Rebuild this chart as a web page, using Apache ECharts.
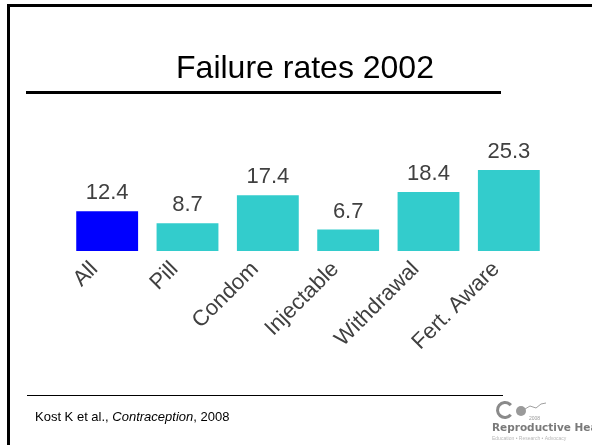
<!DOCTYPE html>
<html>
<head>
  <meta charset="utf-8">
  <title>Failure rates 2002</title>
  <script src="https://cdn.jsdelivr.net/npm/echarts@6/dist/echarts.min.js"></script>
</head>
<body style="margin:0;background:#fff;">
  <div id="main" style="width:592px;height:445px;"></div>
  <script type="text/javascript">
    // 数据
    var methods = ['All', 'Pill', 'Condom', 'Injectable', 'Withdrawal', 'Fert. Aware'];
    var rates = [12.4, 8.7, 17.4, 6.7, 18.4, 25.3];
    var barColors = ['#0000ff', '#33cccc', '#33cccc', '#33cccc', '#33cccc', '#33cccc'];

    var myChart = echarts.init(document.getElementById('main'));

    var seriesData = rates.map(function (v, i) {
      return { value: v, itemStyle: { color: barColors[i] } };
    });

    var option = {
      animation: false,
      backgroundColor: '#fff',
      grid: { left: 67, right: 43, top: 155, bottom: 194 },
      xAxis: {
        type: 'category',
        data: methods,
        axisLine: { show: false },
        axisTick: { show: false },
        axisLabel: {
          rotate: 45,
          interval: 0,
          margin: 2,
          padding: [0, 18, 0, 0],
          color: '#404040',
          fontSize: 22,
          fontFamily: 'Liberation Sans, Arial, sans-serif'
        }
      },
      yAxis: {
        type: 'value',
        min: 0,
        max: 30,
        show: false,
        splitLine: { show: false }
      },
      series: [{
        type: 'bar',
        data: seriesData,
        barCategoryGap: '23%',
        label: {
          show: true,
          position: 'top',
          distance: 7,
          color: '#404040',
          fontSize: 22,
          fontFamily: 'Liberation Sans, Arial, sans-serif'
        }
      }],
      graphic: [
        // 外框
        { type: 'rect', shape: { x: 8.5, y: 5.5, width: 600, height: 460 },
          style: { fill: 'none', stroke: '#000', lineWidth: 3 }, silent: true },
        // 标题
        { type: 'text', x: 305, y: 69,
          style: { text: 'Failure rates 2002', fill: '#000', font: '32px "Liberation Sans", Arial, sans-serif',
            textAlign: 'center', textVerticalAlign: 'middle' } },
        { type: 'rect', shape: { x: 26, y: 91, width: 475, height: 3 }, style: { fill: '#000' } },
        // 脚注
        { type: 'rect', shape: { x: 27, y: 395, width: 476, height: 1 }, style: { fill: '#000' } },
        { type: 'text', x: 35, y: 417,
          style: { text: '{n|Kost K et al., }{i|Contraception}{n|, 2008}', textVerticalAlign: 'middle',
            rich: {
              n: { fontSize: 13, fontFamily: 'Liberation Sans, Arial, sans-serif', fill: '#000' },
              i: { fontSize: 13, fontStyle: 'italic', fontFamily: 'Liberation Sans, Arial, sans-serif', fill: '#000' }
            } } },
        // logo
        { type: 'arc', shape: { cx: 505, cy: 410, r: 7.5, startAngle: 0.7, endAngle: Math.PI * 2 - 0.7 },
          style: { fill: 'none', stroke: '#8a8a8a', lineWidth: 3 } },
        { type: 'circle', shape: { cx: 521, cy: 411, r: 5 }, style: { fill: '#9a9a9a' } },
        { type: 'polyline', shape: { points: [[525, 409], [530, 406], [536, 408], [541, 404], [546, 403]] },
          style: { stroke: '#a0a0a0', lineWidth: 1, fill: 'none' } },
        { type: 'text', x: 529, y: 419,
          style: { text: '2008', fill: '#999', font: '5px "Liberation Sans", Arial, sans-serif', textVerticalAlign: 'middle' } },
        { type: 'text', x: 492, y: 428,
          style: { text: 'Reproductive Health', fill: '#7a7a7a', font: 'bold 10.5px "DejaVu Sans", sans-serif', textVerticalAlign: 'middle' } },
        { type: 'text', x: 492, y: 439,
          style: { text: 'Education \u2022 Research \u2022 Advocacy', fill: '#b8b8b8', font: '5px "Liberation Sans", Arial, sans-serif', textVerticalAlign: 'middle' } }
      ]
    };

    myChart.setOption(option);
  </script>
</body>
</html>
